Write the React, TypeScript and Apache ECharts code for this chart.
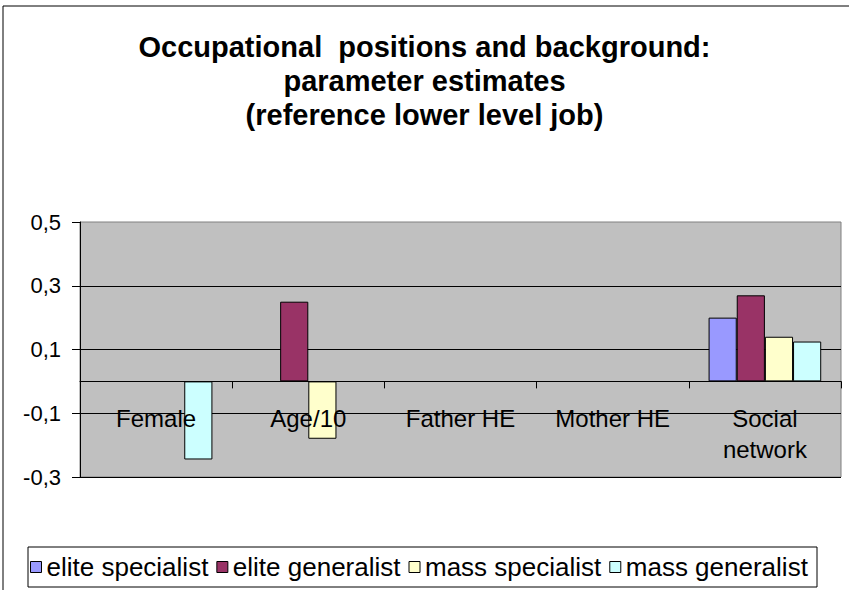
import React, { useEffect, useRef } from "react";
import * as echarts from "echarts";

const categories = ["Female", "Age/10", "Father HE", "Mother HE", "Social network"];
const seriesNames = ["elite specialist", "elite generalist", "mass specialist", "mass generalist"];
const eliteSpecialist = [null, null, null, null, 0.2];
const eliteGeneralist = [null, 0.25, null, null, 0.27];
const massSpecialist = [null, -0.18, null, null, 0.14];
const massGeneralist = [-0.245, null, null, null, 0.125];
const seriesColors = ["#9999FF", "#993366", "#FFFFCC", "#CCFFFF"];
const yTickLabels = ["-0,3", "-0,1", "0,1", "0,3", "0,5"];
const yMin = -0.3;
const yMax = 0.5;
const yStep = 0.2;

const FONT = "'Liberation Sans', Arial, sans-serif";

export default function App() {
  const ref = useRef<HTMLDivElement>(null);
  useEffect(() => {
    const chart = echarts.init(ref.current!, null, { renderer: "svg" });
    const values = [eliteSpecialist, eliteGeneralist, massSpecialist, massGeneralist];
    chart.setOption({
      animation: false,
      backgroundColor: "#ffffff",
      textStyle: { fontFamily: FONT },
      title: {
        text: "Occupational  positions and background:\nparameter estimates\n(reference lower level job)",
        left: "center",
        top: 25,
        textStyle: { fontFamily: FONT, fontSize: 29, fontWeight: "bold", color: "#000", lineHeight: 34 },
      },
      graphic: [
        { type: "rect", shape: { x: 3, y: 6, width: 900, height: 700 }, style: { fill: "none", stroke: "#000", lineWidth: 1 }, z: 0 },
        { type: "rect", shape: { x: 28, y: 547, width: 789, height: 40 }, style: { fill: "#fff", stroke: "#000", lineWidth: 1 }, z: 1 },
      ],
      legend: {
        data: seriesNames,
        left: 30,
        top: 554,
        icon: "rect",
        itemWidth: 11,
        itemHeight: 11,
        itemGap: 8,
        padding: 0,
        itemStyle: { borderColor: "#000", borderWidth: 1 },
        textStyle: { fontFamily: FONT, fontSize: 26, color: "#000", padding: [0, 0, 0, 0] },
        z: 5,
      },
      grid: {
        left: 80,
        top: 222,
        right: 8,
        bottom: 113,
        show: true,
        backgroundColor: "#C0C0C0",
        borderColor: "#808080",
        borderWidth: 1,
      },
      xAxis: {
        type: "category",
        data: categories,
        z: 10,
        axisLine: { show: true, onZero: true, onZeroAxisIndex: 0, lineStyle: { color: "#000", width: 1 } },
        axisTick: { show: true, length: 7, lineStyle: { color: "#000" } },
        axisLabel: {
          fontFamily: FONT,
          fontSize: 24,
          color: "#000",
          margin: -74,
          lineHeight: 31,
          interval: 0,
          formatter: (v: string) => v.replace(" network", "\nnetwork"),
        },
        splitLine: { show: false },
      },
      yAxis: [
        {
          type: "value",
          min: yMin,
          max: yMax,
          show: false,
          splitLine: { show: false },
        },
        {
          type: "value",
          position: "left",
          min: 0,
          max: yMax - yMin,
          interval: yStep,
          axisLine: { show: true, lineStyle: { color: "#000", width: 1 } },
          axisTick: { show: true, length: 8, lineStyle: { color: "#000" } },
          axisLabel: {
            fontFamily: FONT,
            fontSize: 22,
            color: "#000",
            margin: 19,
            formatter: (v: number) => yTickLabels[Math.round(v / yStep)] ?? "",
          },
          splitLine: { show: true, showMaxLine: false, lineStyle: { color: "#000", width: 1 } },
        },
      ],
      series: seriesNames.map((name, i) => ({
        name,
        type: "bar",
        yAxisIndex: 0,
        data: values[i],
        barGap: "0%",
        barCategoryGap: "26%",
        itemStyle: { color: seriesColors[i], borderColor: "#000", borderWidth: 1 },
        z: 3,
      })),
    });
    return () => chart.dispose();
  }, []);
  return <div ref={ref} style={{ position: "absolute", left: 0, top: 0, width: 849, height: 590 }} />;
}
